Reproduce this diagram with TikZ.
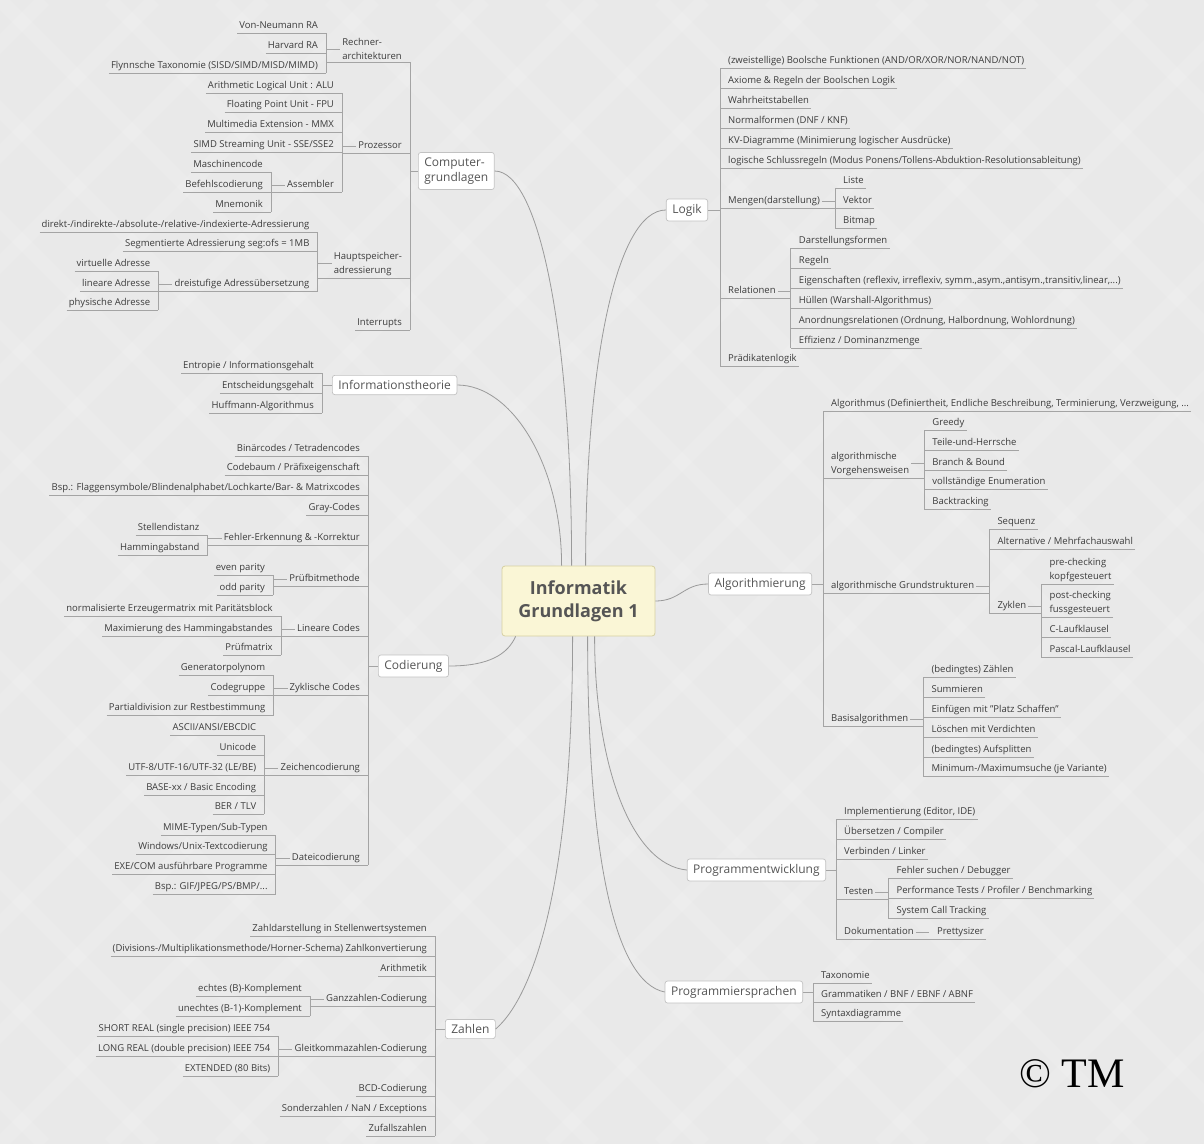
\documentclass[tikz,border=0pt]{standalone}
\usepackage{fontspec}
\setmainfont{Open Sans}
\newfontfamily\tmfont{Liberation Serif}
\definecolor{bg}{HTML}{E9E9E9}
\definecolor{lncol}{HTML}{A4A4A4}
\definecolor{txt}{HTML}{3C3C3C}
\definecolor{topictxt}{HTML}{555555}
\definecolor{boxbd}{HTML}{C2C2C2}
\definecolor{ctrfill}{HTML}{FAF6D6}
\definecolor{ctrbd}{HTML}{D6D0A2}
\definecolor{curvecol}{HTML}{9A9A9A}
\tikzset{
 leaf/.style={inner xsep=2pt, inner ysep=2.3pt, text height=7pt, text depth=2pt, font=\fontsize{9.5}{11}\selectfont, text=txt},
 leafm/.style={inner xsep=2pt, inner ysep=2.3pt, font=\fontsize{9.5}{14}\selectfont, text=txt},
 ln/.style={draw=lncol, line width=0.6pt},
 topic/.style={draw=boxbd, fill=white, rounded corners=2.5pt, inner xsep=6pt, inner ysep=5pt, font=\fontsize{12}{15.5}\selectfont, text=topictxt, line width=0.7pt},
 ctr/.style={draw=ctrbd, fill=ctrfill, rounded corners=3pt, minimum width=153pt, minimum height=70pt, align=center, font=\bfseries\fontsize{18}{23}\selectfont, text=topictxt, line width=0.8pt},
 curve/.style={draw=curvecol, line width=0.8pt},
}
% left leaf: name, bracket, underline y, text
\newcommand{\LL}[4]{\node[leaf,anchor=south east,xshift=-6pt] (#1) at (#2 |- 0,#3) {#4};
  \draw[ln] (#1.south west) -- (#1.south west -| #2);}
% right leaf
\newcommand{\RL}[4]{\node[leaf,anchor=south west,xshift=6pt] (#1) at (#2 |- 0,#3) {#4};
  \draw[ln] (#1.south east) -- (#1.south east -| #2);}
% left parent: style, name, bracket, y, text, child bracket
\newcommand{\LP}[6]{\node[#1,anchor=south east,xshift=-6pt] (#2) at (#3 |- 0,#4) {#5};
  \coordinate (#6) at ([xshift=-14pt]#2.south west);
  \draw[ln] (#2.south west -| #6) -- (#2.south west -| #3);
  \draw[ln] (#2.west -| #6) -- (#2.west);}
% right parent
\newcommand{\RP}[6]{\node[#1,anchor=south west,xshift=6pt] (#2) at (#3 |- 0,#4) {#5};
  \coordinate (#6) at ([xshift=13pt]#2.south east);
  \draw[ln] (#2.south west -| #3) -- (#2.south west -| #6);
  \draw[ln] (#2.east) -- (#2.east -| #6);}
% bracket
\newcommand{\BR}[3]{\draw[ln] (#1.south -| #3) -- (#2.south -| #3);}
\begin{document}
\begin{tikzpicture}[x=1pt,y=-1pt]
\useasboundingbox (0,0) rectangle (1204,1144);
\fill[bg] (0,0) rectangle (1204,1144);
\begin{scope}
\clip (0,0) rectangle (1204,1144);
\foreach \k in {-1210,-1100,...,1300} {
  \draw[white,opacity=0.12,line width=14pt] (\k,0) -- ++(1144,1144);
  \draw[white,opacity=0.12,line width=14pt] (\k+1144,0) -- ++(-1144,1144);
}
\end{scope}

% ===== center =====
\node[ctr] (C) at (578.5,601) {Informatik\\Grundlagen 1};

% ===== Computergrundlagen =====
\coordinate (bkCG) at (410,0);
\node[topic,anchor=west,align=left,xshift=8pt] (CG) at (bkCG |- 0,171) {Computer-\\grundlagen};
\draw[ln] (CG.west) -- (CG.west -| bkCG);
\LP{leafm,align=left}{RA}{bkCG}{62}{Rechner-\\architekturen}{bkRA}
\LL{VN}{bkRA}{33}{Von-Neumann RA}
\LL{HV}{bkRA}{53}{Harvard RA}
\LL{FL}{bkRA}{73}{Flynnsche Taxonomie (SISD/SIMD/MISD/MIMD)}
\BR{VN}{FL}{bkRA}
\LP{leaf}{PZ}{bkCG}{153}{Prozessor}{bkPZ}
\LL{ALU}{bkPZ}{93}{Arithmetic Logical Unit : ALU}
\LL{FPU}{bkPZ}{112}{Floating Point Unit - FPU}
\LL{MMX}{bkPZ}{132}{Multimedia Extension - MMX}
\LL{SSE}{bkPZ}{152}{SIMD Streaming Unit - SSE/SSE2}
\LP{leaf}{ASM}{bkPZ}{192}{Assembler}{bkAS}
\LL{MC}{bkAS}{172}{Maschinencode}
\LL{BC}{bkAS}{192}{Befehlscodierung}
\LL{MN}{bkAS}{212}{Mnemonik}
\BR{MC}{MN}{bkAS}
\BR{ALU}{ASM}{bkPZ}
\LP{leafm,align=left}{HS}{bkCG}{278}{Hauptspeicher-\\adressierung}{bkHS}
\LL{DA}{bkHS}{232}{direkt-/indirekte-/absolute-/relative-/indexierte-Adressierung}
\LL{SA}{bkHS}{251}{Segmentierte Adressierung seg:ofs = 1MB}
\LP{leaf}{DR}{bkHS}{291}{dreistufige Adressübersetzung}{bkDR}
\LL{VA}{bkDR}{271}{virtuelle Adresse}
\LL{LA}{bkDR}{291}{lineare Adresse}
\LL{PA}{bkDR}{310}{physische Adresse}
\BR{VA}{PA}{bkDR}
\BR{DA}{DR}{bkHS}
\LL{IR}{bkCG}{330}{Interrupts}
\BR{RA}{IR}{bkCG}

% ===== Informationstheorie =====
\coordinate (bkIT) at (322,0);
\node[topic,anchor=west,xshift=10pt] (IT) at (bkIT |- 0,385) {Informationstheorie};
\draw[ln] (IT.west) -- (IT.west -| bkIT);
\LL{EN}{bkIT}{373}{Entropie / Informationsgehalt}
\LL{ES}{bkIT}{393}{Entscheidungsgehalt}
\LL{HU}{bkIT}{413}{Huffmann-Algorithmus}
\BR{EN}{HU}{bkIT}

% ===== Codierung =====
\coordinate (bkCO) at (368,0);
\node[topic,anchor=west,xshift=10pt] (CO) at (bkCO |- 0,666) {Codierung};
\draw[ln] (CO.west) -- (CO.west -| bkCO);
\LL{B1}{bkCO}{456}{Binärcodes / Tetradencodes}
\LL{B2}{bkCO}{475}{Codebaum / Präfixeigenschaft}
\LL{B3}{bkCO}{495}{Bsp.: Flaggensymbole/Blindenalphabet/Lochkarte/Bar- \& Matrixcodes}
\LL{B4}{bkCO}{515}{Gray-Codes}
\LP{leaf}{FE}{bkCO}{545}{Fehler-Erkennung \& -Korrektur}{bkFE}
\LL{SD}{bkFE}{535}{Stellendistanz}
\LL{HA}{bkFE}{555}{Hammingabstand}
\BR{SD}{HA}{bkFE}
\LP{leaf}{PB}{bkCO}{586}{Prüfbitmethode}{bkPB}
\LL{EP}{bkPB}{575}{even parity}
\LL{OP}{bkPB}{595}{odd parity}
\BR{EP}{OP}{bkPB}
\LP{leaf}{LC}{bkCO}{636}{Lineare Codes}{bkLC}
\LL{NE}{bkLC}{616}{normalisierte Erzeugermatrix mit Paritätsblock}
\LL{MH}{bkLC}{636}{Maximierung des Hammingabstandes}
\LL{PM}{bkLC}{655}{Prüfmatrix}
\BR{NE}{PM}{bkLC}
\LP{leaf}{ZC}{bkCO}{695}{Zyklische Codes}{bkZC}
\LL{GP}{bkZC}{675}{Generatorpolynom}
\LL{CGR}{bkZC}{695}{Codegruppe}
\LL{PD}{bkZC}{715}{Partialdivision zur Restbestimmung}
\BR{GP}{PD}{bkZC}
\LP{leaf}{ZE}{bkCO}{775}{Zeichencodierung}{bkZE}
\LL{AE}{bkZE}{735}{ASCII/ANSI/EBCDIC}
\LL{UC}{bkZE}{755}{Unicode}
\LL{UTF}{bkZE}{775}{UTF-8/UTF-16/UTF-32 (LE/BE)}
\LL{BAS}{bkZE}{795}{BASE-xx / Basic Encoding}
\LL{BER}{bkZE}{814}{BER / TLV}
\BR{AE}{BER}{bkZE}
\LP{leaf}{DC}{bkCO}{865}{Dateicodierung}{bkDC}
\LL{MI}{bkDC}{835}{MIME-Typen/Sub-Typen}
\LL{WU}{bkDC}{854}{Windows/Unix-Textcodierung}
\LL{EX}{bkDC}{874}{EXE/COM ausführbare Programme}
\LL{BG}{bkDC}{894}{Bsp.: GIF/JPEG/PS/BMP/...}
\BR{MI}{BG}{bkDC}
\BR{B1}{DC}{bkCO}

% ===== Zahlen =====
\coordinate (bkZA) at (435,0);
\node[topic,anchor=west,xshift=10pt] (ZA) at (bkZA |- 0,1029) {Zahlen};
\draw[ln] (ZA.west) -- (ZA.west -| bkZA);
\LL{Z1}{bkZA}{936}{Zahldarstellung in Stellenwertsystemen}
\LL{Z2}{bkZA}{956}{(Divisions-/Multiplikationsmethode/Horner-Schema) Zahlkonvertierung}
\LL{Z3}{bkZA}{976}{Arithmetik}
\LP{leaf}{GZ}{bkZA}{1006}{Ganzzahlen-Codierung}{bkGZ}
\LL{EK}{bkGZ}{996}{echtes (B)-Komplement}
\LL{UK}{bkGZ}{1016}{unechtes (B-1)-Komplement}
\BR{EK}{UK}{bkGZ}
\LP{leaf}{GK}{bkZA}{1056}{Gleitkommazahlen-Codierung}{bkGK}
\LL{SR}{bkGK}{1036}{SHORT REAL (single precision) IEEE 754}
\LL{LR}{bkGK}{1056}{LONG REAL (double precision) IEEE 754}
\LL{EXT}{bkGK}{1076}{EXTENDED (80 Bits)}
\BR{SR}{EXT}{bkGK}
\LL{BCD}{bkZA}{1096}{BCD-Codierung}
\LL{SZ}{bkZA}{1116}{Sonderzahlen / NaN / Exceptions}
\LL{ZZ}{bkZA}{1136}{Zufallszahlen}
\BR{Z1}{ZZ}{bkZA}

% ===== Logik =====
\coordinate (bkLO) at (720,0);
\node[topic,anchor=east,xshift=-12pt] (LO) at (bkLO |- 0,210) {Logik};
\draw[ln] (LO.east) -- (LO.east -| bkLO);
\RL{L1}{bkLO}{68}{(zweistellige) Boolsche Funktionen (AND/OR/XOR/NOR/NAND/NOT)}
\RL{L2}{bkLO}{88}{Axiome \& Regeln der Boolschen Logik}
\RL{L3}{bkLO}{108}{Wahrheitstabellen}
\RL{L4}{bkLO}{128}{Normalformen (DNF / KNF)}
\RL{L5}{bkLO}{148}{KV-Diagramme (Minimierung logischer Ausdrücke)}
\RL{L6}{bkLO}{168}{logische Schlussregeln (Modus Ponens/Tollens-Abduktion-Resolutionsableitung)}
\RP{leaf}{MG}{bkLO}{208}{Mengen(darstellung)}{bkMG}
\RL{LI}{bkMG}{188}{Liste}
\RL{VE}{bkMG}{208}{Vektor}
\RL{BI}{bkMG}{228}{Bitmap}
\BR{LI}{BI}{bkMG}
\RP{leaf}{RE}{bkLO}{298}{Relationen}{bkRE}
\RL{R1}{bkRE}{248}{Darstellungsformen}
\RL{R2}{bkRE}{268}{Regeln}
\RL{R3}{bkRE}{288}{Eigenschaften (reflexiv, irreflexiv, symm.,asym.,antisym.,transitiv,linear,...)}
\RL{R4}{bkRE}{308}{Hüllen (Warshall-Algorithmus)}
\RL{R5}{bkRE}{328}{Anordnungsrelationen (Ordnung, Halbordnung, Wohlordnung)}
\RL{R6}{bkRE}{348}{Effizienz / Dominanzmenge}
\BR{R1}{R6}{bkRE}
\RL{PL}{bkLO}{366}{Prädikatenlogik}
\BR{L1}{PL}{bkLO}

% ===== Algorithmierung =====
\coordinate (bkAL) at (823,0);
\node[topic,anchor=east,xshift=-11pt] (AL) at (bkAL |- 0,584) {Algorithmierung};
\draw[ln] (AL.east) -- (AL.east -| bkAL);
\RL{A1}{bkAL}{411}{Algorithmus (Definiertheit, Endliche Beschreibung, Terminierung, Verzweigung, ...}
\RP{leafm,align=left}{VG}{bkAL}{478}{algorithmische\\Vorgehensweisen}{bkVG}
\RL{G1}{bkVG}{430}{Greedy}
\RL{G2}{bkVG}{450}{Teile-und-Herrsche}
\RL{G3}{bkVG}{470}{Branch \& Bound}
\RL{G4}{bkVG}{489}{vollständige Enumeration}
\RL{G5}{bkVG}{509}{Backtracking}
\BR{G1}{G5}{bkVG}
\RP{leaf}{GS}{bkAL}{593}{algorithmische Grundstrukturen}{bkGS}
\RL{SQ}{bkGS}{529}{Sequenz}
\RL{AM}{bkGS}{549}{Alternative / Mehrfachauswahl}
\RP{leaf}{ZY}{bkGS}{613}{Zyklen}{bkZY}
\node[leafm,align=left,anchor=south west,xshift=6pt] (PC) at (bkZY |- 0,584) {pre-checking\\kopfgesteuert};
\draw[ln] (PC.south east) -- (PC.south east -| bkZY);
\node[leafm,align=left,anchor=south west,xshift=6pt] (PO) at (bkZY |- 0,617) {post-checking\\fussgesteuert};
\draw[ln] (PO.south east) -- (PO.south east -| bkZY);
\RL{CL}{bkZY}{637}{C-Laufklausel}
\RL{PSK}{bkZY}{657}{Pascal-Laufklausel}
\BR{PC}{PSK}{bkZY}
\BR{SQ}{ZY}{bkGS}
\RP{leaf}{BS}{bkAL}{726}{Basisalgorithmen}{bkBS}
\RL{BA1}{bkBS}{677}{(bedingtes) Zählen}
\RL{BA2}{bkBS}{697}{Summieren}
\RL{BA3}{bkBS}{717}{Einfügen mit "Platz Schaffen"}
\RL{BA4}{bkBS}{737}{Löschen mit Verdichten}
\RL{BA5}{bkBS}{757}{(bedingtes) Aufsplitten}
\RL{BA6}{bkBS}{776}{Minimum-/Maximumsuche (je Variante)}
\BR{BA1}{BA6}{bkBS}
\BR{A1}{BS}{bkAL}

% ===== Programmentwicklung =====
\coordinate (bkPE) at (836,0);
\node[topic,anchor=east,xshift=-10pt] (PE) at (bkPE |- 0,870) {Programmentwicklung};
\draw[ln] (PE.east) -- (PE.east -| bkPE);
\RL{P1}{bkPE}{819}{Implementierung (Editor, IDE)}
\RL{P2}{bkPE}{839}{Übersetzen / Compiler}
\RL{P3}{bkPE}{859}{Verbinden / Linker}
\RP{leaf}{TE}{bkPE}{899}{Testen}{bkTE}
\RL{T1}{bkTE}{878}{Fehler suchen / Debugger}
\RL{T2}{bkTE}{898}{Performance Tests / Profiler / Benchmarking}
\RL{T3}{bkTE}{918}{System Call Tracking}
\BR{T1}{T3}{bkTE}
\RP{leaf}{DO}{bkPE}{939}{Dokumentation}{bkDO}
\RL{PR}{bkDO}{939}{Prettysizer}
\BR{P1}{DO}{bkPE}

% ===== Programmiersprachen =====
\coordinate (bkPS) at (813,0);
\node[topic,anchor=east,xshift=-10pt] (PS) at (bkPS |- 0,992) {Programmiersprachen};
\draw[ln] (PS.east) -- (PS.east -| bkPS);
\RL{S1}{bkPS}{983}{Taxonomie}
\RL{S2}{bkPS}{1002}{Grammatiken / BNF / EBNF / ABNF}
\RL{S3}{bkPS}{1021}{Syntaxdiagramme}
\BR{S1}{S3}{bkPS}

% ===== main curves =====
\draw[curve] (CG.east) .. controls +(45,0) and +(0,-230) .. ([xshift=70pt]C.north west);
\draw[curve] (IT.east) .. controls +(55,0) and +(0,-100) .. ([xshift=60pt]C.north west);
\draw[curve] (LO.west) .. controls +(-50,0) and +(0,-200) .. ([xshift=84pt]C.north west);
\draw[curve] (CO.east) .. controls +(40,0) and +(-8,18) .. ([xshift=14pt]C.south west);
\draw[curve] (C.east) .. controls +(25,0) and +(-25,0) .. (AL.west);
\draw[curve] ([xshift=93pt]C.south west) .. controls +(0,130) and +(-55,-5) .. (PE.west);
\draw[curve] ([xshift=86pt]C.south west) .. controls +(0,220) and +(-50,-10) .. (PS.west);
\draw[curve] ([xshift=71pt]C.south west) .. controls +(0,240) and +(40,-35) .. (ZA.east);

% ===== copyright =====
\node[font=\tmfont\fontsize{42}{42}\selectfont, text=black] (TM) at (1072,1074) {© TM};
\end{tikzpicture}
\end{document}
